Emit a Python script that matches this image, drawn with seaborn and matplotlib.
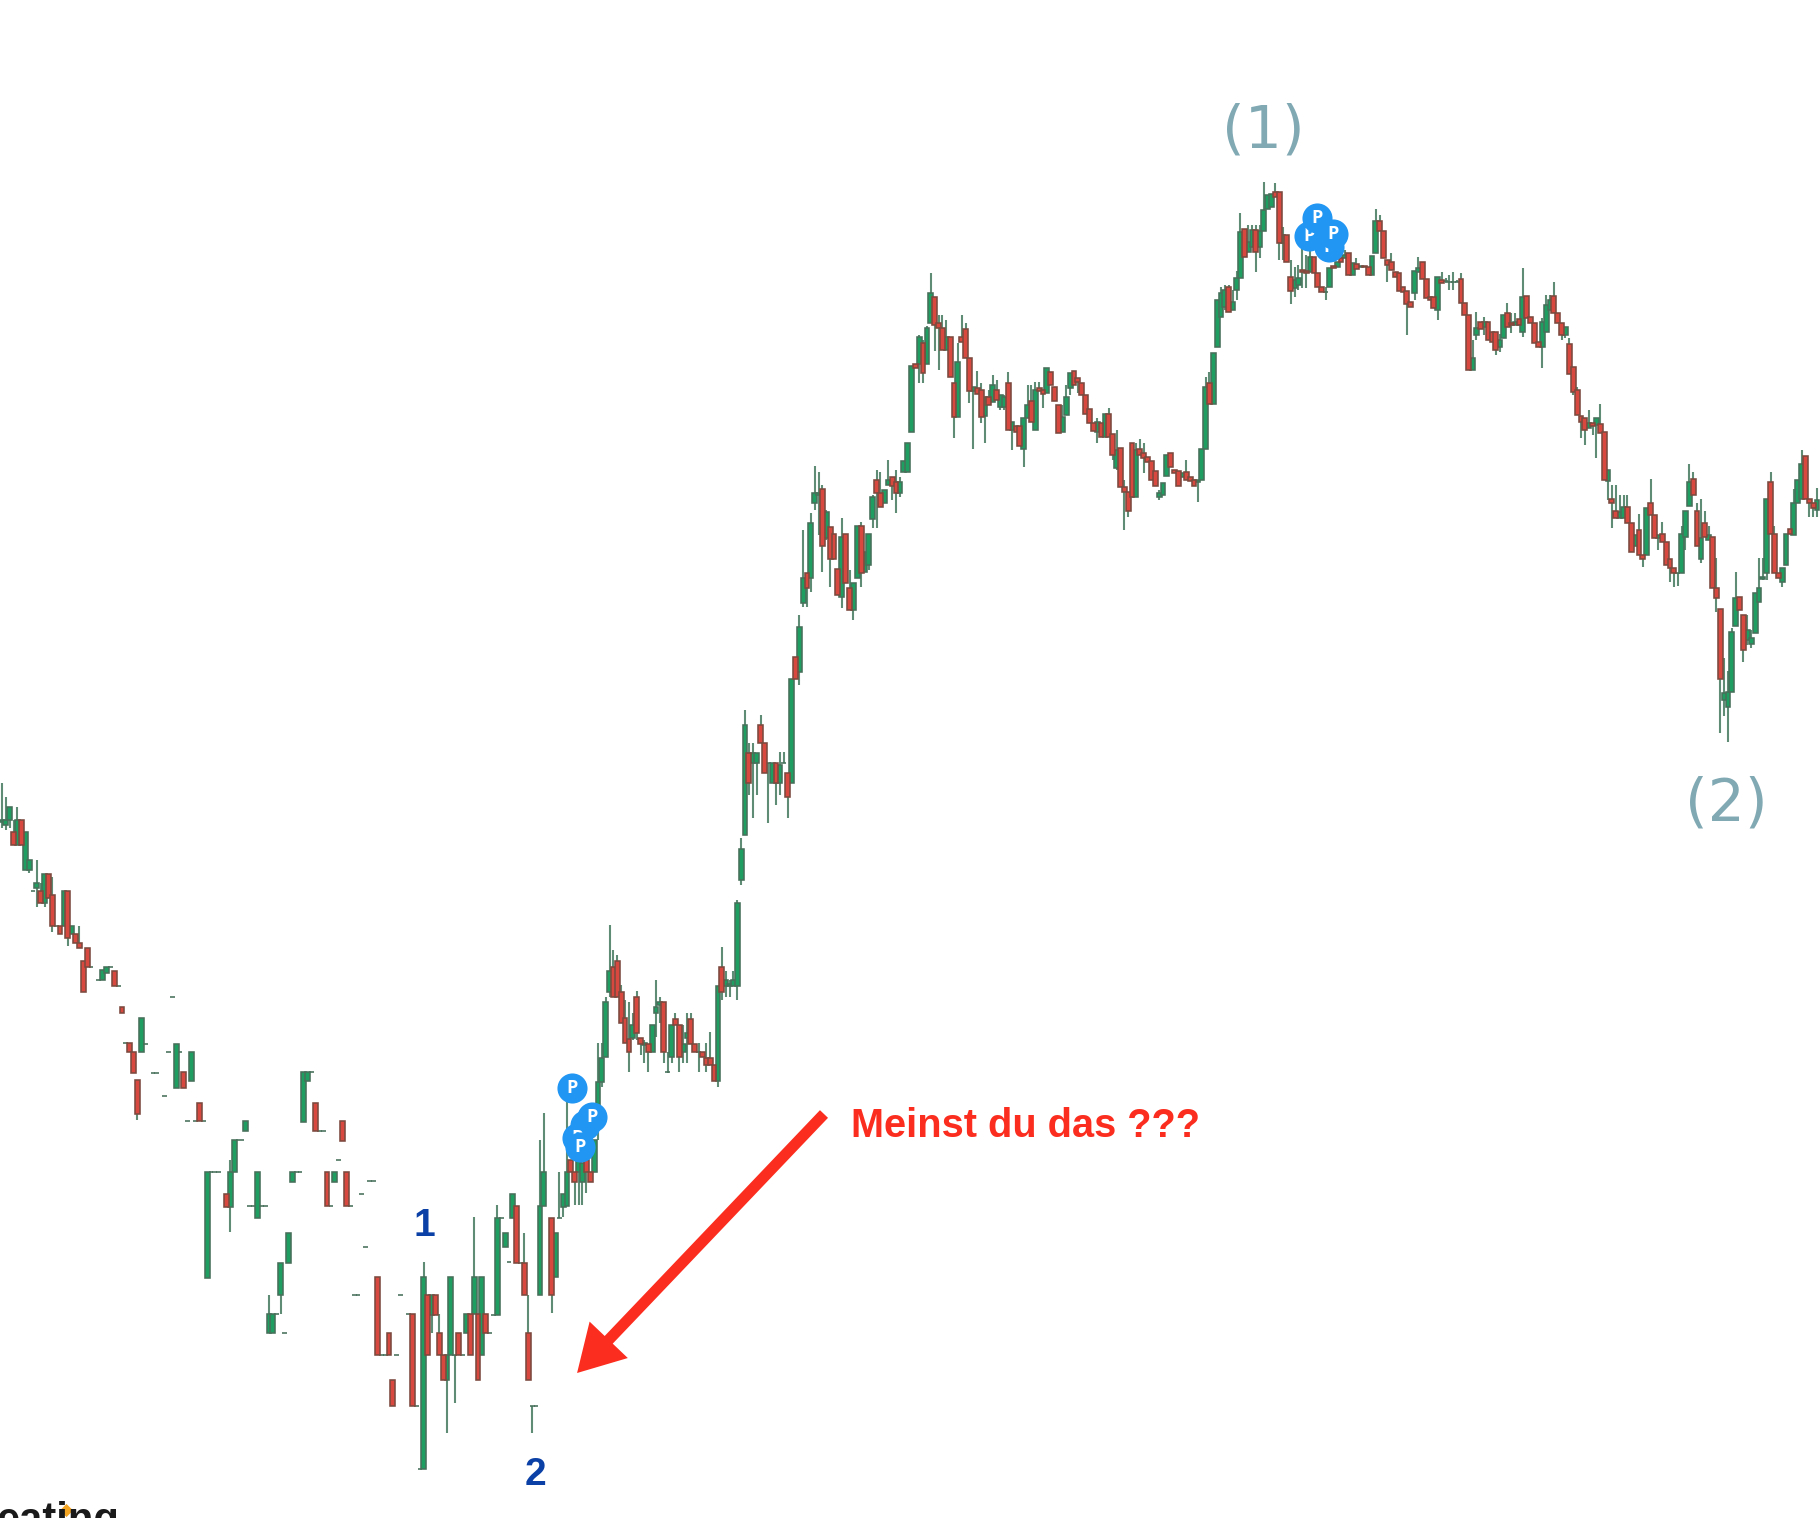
import numpy as np
import pandas as pd
import seaborn as sns
import matplotlib.pyplot as plt

# price levels on a reversed scale (small = high on the chart)

# thin overnight stretch, many bars are missing here
thin_bar = [0,1,2,3,4,5,6,7,8,9,
            10,11,12,13,14,15,16,17,18,19,
            20,21,22,23,25,26,27,28,29,30,
            31,32,33,34,35,36,37,39,40,42,
            43,44,45,46,47,48,49,50,51,52,
            53,54,55,56,58,59,60,61,62,63,
            64,65,66,67,68,69,70,71,72,73,
            74,75,76,77,78,79,80,81,82,83,
            84,85,86,87,88,89,90,91,92,93,
            94,95,96,97,98,99,100,101,102,103,
            105,106,107,108]
thin_open = [822,825,820,832,845,820,870,870,891,888,
             891,903,874,895,926,926,926,891,934,934,
             943,961,948,967,980,980,973,967,971,986,
             1007,1043,1043,1052,1080,1052,1044,1073,1073,1096,
             1052,997,1088,1052,1072,1121,1081,1121,1103,1121,
             1278,1172,1172,1172,1194,1207,1172,1140,1140,1131,
             1206,1206,1218,1206,1206,1333,1333,1314,1295,1333,
             1263,1182,1172,1172,1122,1081,1072,1103,1131,1131,
             1172,1206,1182,1160,1121,1172,1206,1295,1295,1194,
             1247,1181,1181,1277,1355,1355,1333,1380,1355,1295,
             1314,1314,1406,1469]
thin_close = [820,820,807,845,820,845,832,860,891,883,
              903,874,898,926,926,934,891,938,926,943,
              948,992,967,967,980,970,967,967,986,986,
              1013,1043,1052,1073,1114,1018,1044,1073,1073,1096,
              1052,997,1044,1052,1088,1121,1052,1121,1121,1121,
              1172,1172,1172,1172,1207,1172,1140,1140,1140,1121,
              1206,1206,1172,1206,1206,1314,1314,1314,1263,1333,
              1233,1172,1172,1172,1072,1072,1072,1131,1131,1131,
              1206,1206,1172,1160,1141,1206,1206,1295,1295,1194,
              1247,1181,1181,1355,1355,1355,1355,1406,1355,1295,
              1314,1406,1406,1469]
thin_high = [783,797,807,820,807,820,832,860,891,860,
             883,874,874,877,926,926,891,891,926,934,
             926,961,948,967,980,970,967,967,971,986,
             1007,1043,1043,1052,1080,1018,1044,1073,1073,1096,
             1052,997,1044,1052,1072,1121,1052,1121,1103,1121,
             1172,1172,1172,1172,1194,1160,1140,1140,1140,1121,
             1206,1206,1172,1206,1206,1295,1314,1314,1263,1333,
             1233,1172,1172,1172,1072,1072,1072,1103,1131,1131,
             1172,1206,1172,1160,1121,1172,1206,1295,1295,1194,
             1247,1181,1181,1277,1355,1355,1333,1380,1355,1295,
             1314,1314,1406,1469]
thin_low = [828,830,828,845,845,845,870,873,891,907,
            903,907,898,932,926,934,926,946,934,943,
            948,992,967,967,980,980,973,967,986,986,
            1013,1043,1052,1073,1120,1052,1044,1073,1073,1096,
            1052,997,1088,1052,1088,1121,1081,1121,1121,1121,
            1278,1172,1172,1172,1207,1232,1172,1140,1140,1131,
            1206,1206,1218,1206,1206,1333,1333,1314,1314,1333,
            1263,1182,1172,1172,1122,1081,1072,1131,1131,1131,
            1206,1206,1182,1160,1141,1206,1206,1295,1295,1194,
            1247,1181,1181,1355,1355,1355,1355,1406,1355,1295,
            1314,1406,1406,1469]

# bottom, bars 109-140
base_bar = list(range(109, 141))
base_open = [1469,1295,1315,1295,1333,1355,1380,1355,1355,1333,
             1355,1333,1314,1314,1314,1355,1314,1333,1315,1315,
             1218,1247,1262,1218,1206,1263,1263,1333,1406,1406,
             1295,1206]
base_close = [1277,1355,1295,1315,1355,1380,1355,1277,1355,1355,
              1355,1314,1355,1277,1380,1277,1333,1333,1315,1218,
              1218,1233,1262,1194,1263,1263,1295,1380,1406,1406,
              1206,1172]
base_high = [1262,1295,1295,1295,1314,1355,1355,1277,1355,1333,
             1355,1314,1314,1217,1314,1277,1314,1333,1315,1205,
             1218,1233,1262,1194,1206,1263,1233,1295,1406,1406,
             1140,1113]
base_low = [1469,1355,1333,1315,1355,1380,1433,1355,1403,1355,
            1355,1333,1355,1314,1380,1355,1333,1333,1315,1315,
            1218,1247,1262,1218,1263,1263,1295,1380,1433,1406,
            1295,1206]

# first rally, bars 142-234
rally_bar = list(range(142, 235))
rally_open = [1218,1277,1218,1207,1206,1160,1172,1172,1182,1160,
              1172,1172,1105,1082,1057,992,967,961,992,1018,
              1039,1038,997,1038,1045,1044,1052,1013,1005,1002,
              1072,1057,1019,1025,1052,1038,1019,1044,1052,1052,
              1058,1058,1065,1081,967,986,986,986,986,880,
              835,753,763,763,725,743,763,783,763,783,
              763,773,783,657,672,603,573,578,503,495,
              489,538,527,534,569,597,534,588,610,578,
              526,572,565,519,480,493,503,485,477,482,
              493,472,472]
rally_close = [1295,1233,1218,1194,1172,1172,1182,1160,1163,1172,
               1182,1140,1082,1058,1002,971,997,997,1023,1043,
               1052,1025,1033,1044,1043,1052,1025,1007,1002,1052,
               1072,1025,1025,1057,1044,1033,1044,1052,1052,1057,
               1065,1065,1081,986,992,980,984,980,903,849,
               725,783,753,753,743,773,763,763,783,765,
               763,797,679,679,627,578,588,523,493,493,
               546,512,559,559,595,537,583,610,583,526,
               573,552,534,497,493,507,490,480,486,493,
               482,461,443]
rally_high = [1218,1233,1172,1194,1100,1160,1172,1160,1163,1160,
              1172,1140,1043,1043,997,925,950,955,985,1000,
              1002,1013,991,1038,1040,1044,1025,980,997,1002,
              1052,1025,1013,1025,1025,1013,1013,1044,1043,1052,
              1043,1032,1065,986,947,971,980,971,900,838,
              710,743,743,753,715,743,763,763,763,752,
              752,773,679,657,615,530,573,513,466,472,
              485,510,527,534,569,518,534,570,583,526,
              522,552,534,495,470,472,490,460,477,470,
              477,461,443]
rally_low = [1313,1277,1218,1217,1206,1172,1205,1205,1205,1193,
             1182,1172,1140,1087,1057,997,997,997,1023,1043,
             1072,1040,1040,1055,1063,1072,1052,1037,1023,1063,
             1073,1063,1025,1072,1063,1063,1044,1052,1072,1057,
             1072,1065,1081,1087,1000,997,997,986,1000,885,
             835,795,818,795,743,773,823,783,805,795,
             763,818,783,679,685,607,607,592,510,535,
             572,540,587,559,595,608,583,610,620,578,
             587,572,570,528,528,507,503,485,500,513,
             497,472,472]

# consolidation before the high, bars 235-314
mid_bar = list(range(235, 315))
mid_open = [432,364,364,343,364,323,297,323,328,350,
            337,383,417,337,329,358,391,388,390,416,
            397,402,390,407,407,383,430,426,426,449,
            418,401,430,388,390,393,372,387,405,432,
            415,388,371,378,383,395,409,423,432,423,
            437,414,434,468,448,487,492,443,497,449,
            453,457,461,471,497,495,476,453,470,471,
            477,472,477,480,482,480,449,383,404,347]
mid_close = [366,368,337,373,328,293,325,328,350,337,
             377,417,362,342,358,391,387,394,417,397,
             405,385,400,395,397,430,422,432,446,418,
             405,422,390,391,394,368,385,401,433,417,
             397,373,385,382,395,414,423,431,422,437,
             414,437,455,450,487,492,511,497,450,455,
             458,462,480,486,493,483,455,467,473,486,
             473,480,481,486,480,449,387,404,353,300]
mid_high = [366,364,335,340,326,273,297,315,315,320,
            337,383,343,315,323,358,387,371,383,397,
            390,375,380,395,395,372,422,426,426,418,
            385,385,382,382,390,368,372,387,405,405,
            385,373,371,378,383,395,409,423,418,423,
            414,408,434,430,448,480,492,443,443,439,
            443,457,461,471,490,483,455,453,470,471,
            473,460,477,480,480,449,377,372,353,300]
mid_low = [432,368,383,383,364,323,351,370,350,350,
           377,438,417,342,358,403,449,394,423,443,
           405,402,400,410,410,430,450,432,446,467,
           418,422,430,391,408,393,385,401,433,432,
           415,395,385,393,395,414,423,431,443,437,
           437,437,460,470,487,530,517,497,497,455,
           473,462,480,486,500,495,476,467,473,486,
           477,480,481,486,502,480,449,404,404,347]

# top and roll over, bars 315-404
top_bar = list(range(315, 405))
top_open = [317,307,287,310,290,278,229,252,247,230,
            247,231,209,207,192,192,243,235,277,288,
            285,270,271,272,257,273,287,292,287,266,
            267,258,258,253,275,264,267,266,267,275,
            253,221,231,260,262,272,273,287,291,302,
            293,272,262,279,297,297,310,280,281,282,
            282,282,279,303,315,370,335,322,327,322,
            332,332,347,338,313,323,325,319,332,296,
            317,323,342,347,332,310,296,313,323,335]
top_close = [293,290,312,302,278,232,257,242,230,252,
             231,210,195,194,197,243,235,262,291,280,
             278,272,273,257,273,287,292,292,268,268,
             262,262,255,275,263,269,266,267,275,256,
             221,231,258,265,270,277,291,292,304,307,
             271,268,279,298,300,308,277,283,281,282,
             282,282,303,315,370,358,328,329,322,340,
             342,350,340,315,327,325,322,325,297,318,
             323,343,347,322,305,300,313,323,335,327]
top_high = [287,285,285,290,271,213,229,225,225,225,
            225,182,195,194,183,192,227,235,260,267,
            265,247,255,250,257,273,287,287,268,266,
            262,258,250,253,263,258,266,266,267,256,
            209,215,231,260,253,272,273,287,291,302,
            271,257,262,279,297,297,277,272,278,275,
            272,280,273,303,315,340,312,322,317,322,
            332,332,334,315,303,313,313,319,268,296,
            317,323,342,318,295,295,282,313,323,327]
top_low = [317,310,312,310,300,278,257,252,247,272,
           258,231,209,207,197,260,260,262,304,297,
           290,288,288,272,273,287,292,300,287,268,
           267,262,258,275,275,269,267,267,275,275,
           253,231,258,282,270,277,291,292,335,307,
           300,272,279,298,300,308,320,283,283,290,
           290,282,303,315,370,370,340,329,335,340,
           342,355,352,338,327,333,325,325,337,318,
           323,343,347,368,332,310,313,323,340,338]

# decline into (2) and rebound, bars 405-469
end_bar = list(range(405, 470))
end_open = [344,367,390,416,418,428,423,425,424,432,
            481,499,511,518,518,507,523,546,530,555,
            555,503,515,538,534,542,559,568,573,573,
            537,506,479,511,559,523,540,537,588,609,
            700,707,692,626,597,615,640,644,633,602,
            579,573,482,534,573,582,565,529,535,503,
            499,456,499,503,510]
end_close = [374,392,415,422,430,423,426,418,433,480,
             470,503,518,512,507,523,552,535,555,559,
             508,515,538,535,542,565,568,573,573,534,
             511,482,495,546,538,537,535,588,598,679,
             693,692,632,598,610,650,630,638,593,588,
             577,499,534,573,578,568,534,534,503,480,
             464,499,503,508,500]
end_high = [338,367,387,416,418,410,423,418,404,432,
            470,485,485,495,495,495,523,535,514,555,
            508,479,515,535,522,542,559,568,573,526,
            511,464,472,503,499,511,526,537,558,609,
            658,671,628,572,597,615,615,630,593,558,
            558,499,472,526,573,568,534,529,489,480,
            450,456,499,503,488]
end_low = [374,395,415,438,445,428,435,458,433,480,
           500,528,518,518,518,523,552,546,555,567,
           555,515,538,550,542,565,582,587,586,573,
           550,506,495,546,563,537,540,588,612,733,
           716,742,692,626,610,662,645,648,633,602,
           580,580,534,573,578,587,565,534,535,503,
           499,499,517,517,517]

# "P" pins, in draw order
pin_bar = [150.6, 148.6, 152.5, 149.4, 147.3, 342.9, 337.7, 339.8, 343.9]
pin_level = [1125, 1138, 1117, 1147, 1088, 247, 236, 218, 234]

sns.set_theme(style="white")
plt.rcParams["font.family"] = ["Liberation Sans", "DejaVu Sans"]

parts = []
for bars, o, c, h, l in [
    (thin_bar, thin_open, thin_close, thin_high, thin_low),
    (base_bar, base_open, base_close, base_high, base_low),
    (rally_bar, rally_open, rally_close, rally_high, rally_low),
    (mid_bar, mid_open, mid_close, mid_high, mid_low),
    (top_bar, top_open, top_close, top_high, top_low),
    (end_bar, end_open, end_close, end_high, end_low),
]:
    parts.append(pd.DataFrame({"bar": bars, "open": o, "close": c, "high": h, "low": l}))
df = pd.concat(parts, ignore_index=True)
df["body_top"] = df[["open", "close"]].min(axis=1)
df["body_size"] = (df["open"] - df["close"]).abs()
df["up"] = df["close"] <= df["open"]

fig = plt.figure(figsize=(18.2, 15.18), dpi=100, facecolor="white")
ax = fig.add_axes([0, 0, 1, 1])

# wicks
ax.vlines(df["bar"], df["high"], df["low"], colors="#5f8c75", linewidth=1.5, zorder=0.5)

# bodies, red is drawn over green
up = df[df["up"]]
down = df[~df["up"]]
sns.barplot(data=up, x="bar", y="body_size", bottom=up["body_top"].values, orient="x",
            native_scale=True, width=1.25, errorbar=None, color="#1f9e62", saturation=1,
            edgecolor="#47705a", linewidth=1.15, ax=ax)
sns.barplot(data=down, x="bar", y="body_size", bottom=down["body_top"].values, orient="x",
            native_scale=True, width=1.25, errorbar=None, color="#d8483f", saturation=1,
            edgecolor="#7c4a3e", linewidth=1.15, ax=ax)

# pins
for n, (b, lv) in enumerate(zip(pin_bar, pin_level)):
    sns.scatterplot(x=[b], y=[lv], s=470, color="#2196f3", linewidth=0, ax=ax,
                    zorder=5 + n, legend=False)
    ax.text(b, lv, "P", color="white", fontsize=13, fontweight="bold", family="Open Sans",
            ha="center", va="center", zorder=5 + n)

# logo dot
sns.scatterplot(x=[16.5], y=[1510], marker="D", s=45, color="#f5a623", linewidth=0, ax=ax,
                zorder=6, legend=False)

ax.set_xlim(-0.517, 469.77)
ax.set_ylim(1518, 0)
ax.axis("off")

# arrow and hand written labels
ax.annotate("", xy=(148.6, 1373), xytext=(212.4, 1114),
            arrowprops=dict(arrowstyle="simple,head_length=33,head_width=38,tail_width=8",
                            mutation_scale=1, color="#fb2d1e", shrinkA=0, shrinkB=0, lw=0))
fig.text(851 / 1820, 1 - 1126 / 1518, "Meinst du das ???", color="#fb2d1e", fontsize=28.6,
         fontweight="bold", ha="left", va="center")
fig.text(424 / 1820, 1 - 1226 / 1518, "1", color="#0b41a6", fontsize=28, fontweight="bold",
         ha="center", va="center")
fig.text(535 / 1820, 1 - 1475 / 1518, "2", color="#0b41a6", fontsize=28, fontweight="bold",
         ha="center", va="center")
fig.text(1263 / 1820, 1 - 131 / 1518, "(1)", color="#80a9b4", fontsize=42, family="DejaVu Sans",
         ha="center", va="center")
fig.text(1726 / 1820, 1 - 804 / 1518, "(2)", color="#80a9b4", fontsize=42, family="DejaVu Sans",
         ha="center", va="center")

# logo cut off by the bottom edge
fig.text(-4 / 1820, 1 - 1532 / 1518, "eating", color="#1a1a1a", fontsize=30, fontweight="bold",
         ha="left", va="baseline")

fig.savefig("out.png", dpi=100, facecolor="white")
